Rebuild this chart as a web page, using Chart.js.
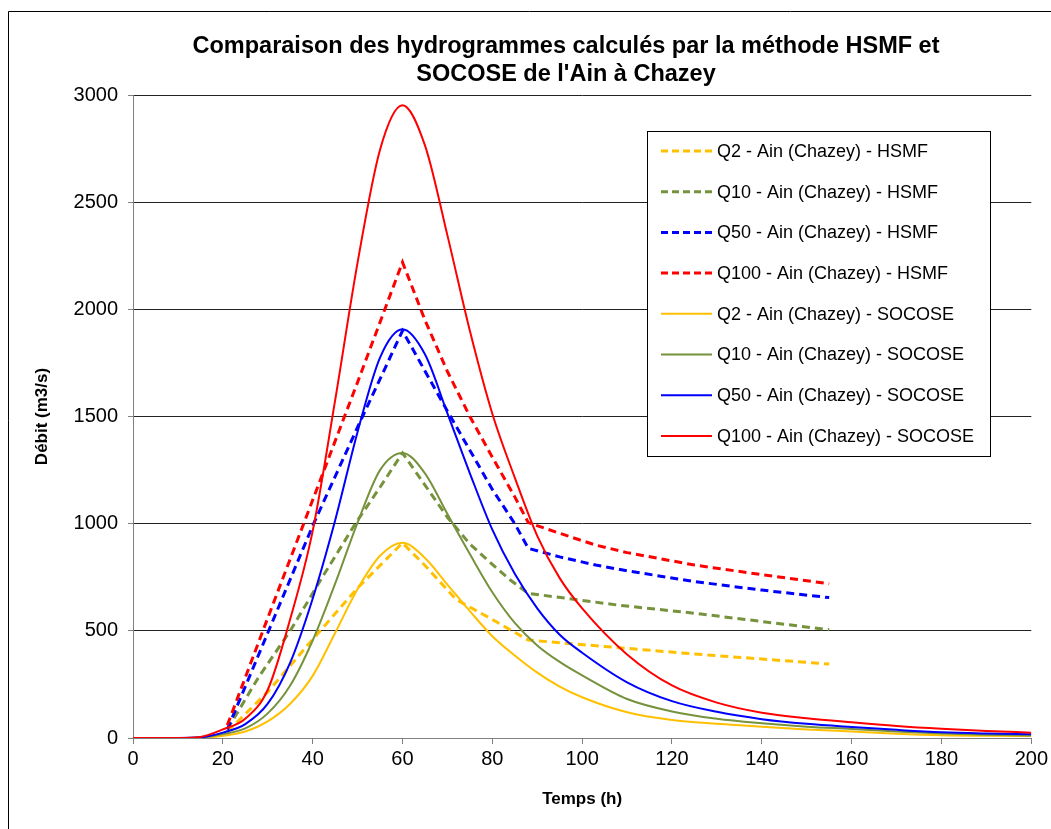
<!DOCTYPE html>
<html lang="fr">
<head>
<meta charset="utf-8">
<title>Hydrogrammes HSMF / SOCOSE - Ain à Chazey</title>
<script src="https://cdn.jsdelivr.net/npm/chart.js@4.4.1/dist/chart.umd.min.js"></script>
<style>
    html, body { margin: 0; padding: 0; background: #fff; }
    #wrap { position: relative; width: 1051px; height: 829px; }
</style>
</head>
<body>
<div id="wrap"><canvas id="hydro" width="1051" height="829"></canvas></div>
<script>
const FONT = "'Liberation Sans', Arial, sans-serif";

const chartTitle = ["Comparaison des hydrogrammes calculés par la méthode HSMF et", "SOCOSE de l'Ain à Chazey"];
const xTitle = "Temps (h)";
const yTitle = "Débit (m3/s)";
const xTicks = [0, 20, 40, 60, 80, 100, 120, 140, 160, 180, 200];
const yTicks = [0, 500, 1000, 1500, 2000, 2500, 3000];

// SOCOSE hydrographs (smooth), common time steps (h)
const socoseHours = [0, 10, 15, 20, 25, 30, 35, 40, 45, 50, 55, 60, 65, 70, 75, 80, 85, 90, 95, 100, 110, 120, 130, 140, 150, 160, 170, 180, 190, 200];
const q2Socose   = [0, 0, 1, 10, 30, 78, 160, 290, 490, 695, 850, 911, 840, 716, 592, 475, 385, 305, 240, 190, 120, 84, 66, 52, 40, 30, 20, 13, 10, 9];
const q10Socose  = [0, 0, 2, 18, 45, 115, 245, 455, 720, 1005, 1250, 1330, 1235, 1045, 858, 680, 537, 432, 355, 292, 182, 124, 90, 69, 53, 42, 30, 21, 15, 12];
const q50Socose  = [0, 0, 3, 25, 65, 160, 352, 650, 1015, 1428, 1775, 1907, 1790, 1515, 1235, 972, 766, 605, 482, 398, 260, 172, 122, 88, 66, 51, 38, 27, 21, 17];
const q100Socose = [0, 0, 5, 40, 90, 225, 555, 965, 1575, 2218, 2745, 2952, 2765, 2345, 1900, 1513, 1215, 943, 746, 605, 390, 245, 165, 118, 92, 73, 56, 43, 33, 25];

// HSMF hydrographs (broken lines), own time steps (h)
const q2HsmfHours   = [21, 30, 40, 50, 60, 65, 72, 80, 88, 110, 125, 155];
const q2Hsmf        = [30, 215, 460, 700, 910, 805, 645, 553, 457, 418, 392, 345];
const q10HsmfHours  = [21, 28, 35, 42, 49.5, 55, 60, 65, 70, 75, 80, 84, 88, 108, 125, 155];
const q10Hsmf       = [40, 285, 500, 745, 1000, 1170, 1330, 1180, 1030, 905, 810, 737, 675, 620, 582, 505];
const q50HsmfHours  = [21, 30, 40, 50, 60, 70, 80, 85, 88, 95, 103, 110, 125, 140, 155];
const q50Hsmf       = [40, 490, 990, 1450, 1900, 1525, 1160, 1000, 885, 845, 807, 780, 730, 690, 655];
const q100HsmfHours = [21, 30, 40, 50, 60, 65, 70, 75, 80, 85, 88, 95, 103, 110, 125, 140, 155];
const q100Hsmf      = [60, 560, 1110, 1660, 2220, 1950, 1710, 1500, 1310, 1125, 1005, 955, 900, 865, 807, 762, 720];

const YELLOW = '#FFC000';
const GREEN = '#76923C';
const BLUE = '#0000FF';
const RED = '#FF0000';

function pts(xs, ys) {
    return xs.map((x, i) => ({ x: x, y: ys[i] }));
}

function hsmf(label, xs, ys, color) {
    return {
        label: label,
        data: pts(xs, ys),
        borderColor: color,
        backgroundColor: color,
        borderWidth: 3,
        borderDash: [8, 5],
        pointRadius: 0,
        tension: 0,
        fill: false
    };
}

function socose(label, ys, color) {
    return {
        label: label,
        data: pts(socoseHours, ys),
        borderColor: color,
        backgroundColor: color,
        borderWidth: 2,
        pointRadius: 0,
        cubicInterpolationMode: 'monotone',
        fill: false
    };
}

const datasets = [
    hsmf('Q2 - Ain (Chazey) - HSMF', q2HsmfHours, q2Hsmf, YELLOW),
    hsmf('Q10 - Ain (Chazey) - HSMF', q10HsmfHours, q10Hsmf, GREEN),
    hsmf('Q50 - Ain (Chazey) - HSMF', q50HsmfHours, q50Hsmf, BLUE),
    hsmf('Q100 - Ain (Chazey) - HSMF', q100HsmfHours, q100Hsmf, RED),
    socose('Q2 - Ain (Chazey) - SOCOSE', q2Socose, YELLOW),
    socose('Q10 - Ain (Chazey) - SOCOSE', q10Socose, GREEN),
    socose('Q50 - Ain (Chazey) - SOCOSE', q50Socose, BLUE),
    socose('Q100 - Ain (Chazey) - SOCOSE', q100Socose, RED)
];
// later series painted on top, as in the spreadsheet
datasets.forEach((d, i) => { d.order = datasets.length - i; });

// frame, title and boxed legend drawn on the canvas
const decorPlugin = {
    id: 'decor',
    beforeDraw(chart) {
        const ctx = chart.ctx;
        ctx.save();
        ctx.fillStyle = '#fff';
        ctx.fillRect(0, 0, chart.width, chart.height);
        ctx.strokeStyle = '#000';
        ctx.lineWidth = 1;
        ctx.beginPath();
        ctx.moveTo(8.5, chart.height);
        ctx.lineTo(8.5, 11.5);
        ctx.lineTo(chart.width, 11.5);
        ctx.stroke();
        ctx.restore();
    },
    afterDraw(chart) {
        const ctx = chart.ctx;
        ctx.save();
        ctx.fillStyle = '#000';
        ctx.textAlign = 'center';
        ctx.textBaseline = 'middle';
        ctx.font = "bold 23.5px " + FONT;
        chartTitle.forEach((line, i) => ctx.fillText(line, 566, 47 + i * 28));

        // legend box
        const box = { x: 647.5, y: 131.5, w: 343, h: 325 };
        ctx.fillStyle = '#fff';
        ctx.fillRect(box.x, box.y, box.w, box.h);
        ctx.strokeStyle = '#000';
        ctx.lineWidth = 1;
        ctx.strokeRect(box.x, box.y, box.w, box.h);
        ctx.font = "18px " + FONT;
        ctx.textAlign = 'left';
        chart.data.datasets.forEach((ds, i) => {
            const y = 151 + i * 40.7;
            ctx.beginPath();
            ctx.strokeStyle = ds.borderColor;
            ctx.lineWidth = ds.borderDash ? 3 : 2;
            ctx.setLineDash(ds.borderDash ? [7, 4] : []);
            ctx.moveTo(661, y);
            ctx.lineTo(712, y);
            ctx.stroke();
            ctx.setLineDash([]);
            ctx.fillStyle = '#000';
            ctx.fillText(ds.label, 717, y + 1);
        });
        ctx.restore();
    }
};

new Chart(document.getElementById('hydro'), {
    type: 'line',
    data: { datasets: datasets },
    plugins: [decorPlugin],
    options: {
        responsive: false,
        animation: false,
        layout: { padding: { top: 95, right: 15, left: 0, bottom: 0 } },
        plugins: {
            legend: { display: false },
            title: { display: false },
            tooltip: { enabled: false }
        },
        scales: {
            x: {
                type: 'linear',
                min: 0,
                max: 200,
                afterFit: (s) => { s.height = 91; },
                afterBuildTicks: (s) => { s.ticks = xTicks.map(v => ({ value: v })); },
                ticks: { color: '#000', font: { family: FONT, size: 20 }, padding: 3, maxRotation: 0, callback: (v) => String(v) },
                grid: { drawOnChartArea: false, drawTicks: true, tickLength: 6, tickColor: '#808080' },
                border: { display: true, color: '#808080', width: 1 },
                title: { display: true, text: xTitle, color: '#000', font: { family: FONT, size: 17, weight: 'bold' }, padding: { top: 0, bottom: 19 } }
            },
            y: {
                min: 0,
                max: 3000,
                afterFit: (s) => { s.width = 133; },
                afterBuildTicks: (s) => { s.ticks = yTicks.map(v => ({ value: v })); },
                ticks: { color: '#000', font: { family: FONT, size: 20 }, padding: 10, callback: (v) => String(v) },
                grid: { color: '#222', lineWidth: 1, drawTicks: true, tickLength: 5, tickColor: '#808080' },
                border: { display: true, color: '#808080', width: 1 },
                title: { display: true, text: yTitle, color: '#000', font: { family: FONT, size: 17, weight: 'bold' }, padding: { top: 32, bottom: 0 } }
            }
        }
    }
});
</script>
</body>
</html>
